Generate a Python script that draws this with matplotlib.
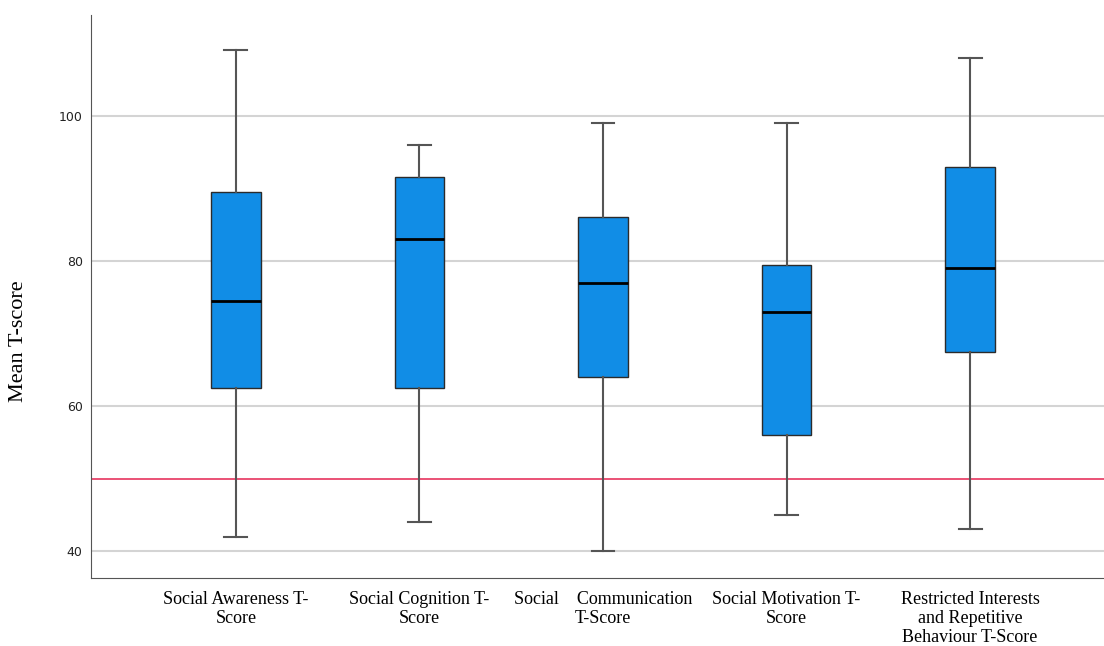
import matplotlib
matplotlib.use("Agg")
import matplotlib.pyplot as plt

# values
labels = ["Social Awareness T-\nScore",
          "Social Cognition T-\nScore",
          "Social    Communication\nT-Score",
          "Social Motivation T-\nScore",
          "Restricted Interests\nand Repetitive\nBehaviour T-Score"]
whislo = [42, 44, 40, 45, 43]
q1 = [62.5, 62.5, 64, 56, 67.5]
med = [74.5, 83, 77, 73, 79]
q3 = [89.5, 91.5, 86, 79.5, 93]
whishi = [109, 96, 99, 99, 108]
ref_line = 50

stats = []
for i in range(len(labels)):
    stats.append({"label": labels[i], "whislo": whislo[i], "q1": q1[i],
                  "med": med[i], "q3": q3[i], "whishi": whishi[i]})

fig = plt.figure(figsize=(11.04, 6.46), dpi=100)
ax = fig.add_axes([0.0824, 0.105, 0.9176, 0.872])

ax.bxp(stats, positions=range(1, 6), widths=0.27, showfliers=False,
       patch_artist=True, capwidths=0.125,
       boxprops=dict(facecolor="#118de6", edgecolor="#2b2b2b", linewidth=1),
       medianprops=dict(color="black", linewidth=2),
       whiskerprops=dict(color="#555555", linewidth=1.5),
       capprops=dict(color="#555555", linewidth=1.5))

ax.axhline(ref_line, color="#e8436a", linewidth=1.3, zorder=1)

ax.set_ylim(36.28, 113.9)
ax.set_xlim(0.21, 5.73)
ax.set_yticks([40, 60, 80, 100])
ax.yaxis.grid(True, color="#d4d4d4", linewidth=1.5)
ax.set_axisbelow(True)
ax.tick_params(axis="both", length=0)
ax.tick_params(axis="y", labelsize=9, colors="#222222", pad=6)
for lab in ax.get_xticklabels():
    lab.set_family("Liberation Serif")
    lab.set_fontsize(13)
    lab.set_linespacing(1.15)
ax.tick_params(axis="x", pad=9)

ax.set_ylabel("Mean T-score", family="Liberation Serif", fontsize=16)
ax.yaxis.set_label_coords(-0.062, 0.421)

ax.spines["top"].set_visible(False)
ax.spines["right"].set_visible(False)
ax.spines["left"].set_color("#555555")
ax.spines["bottom"].set_color("#555555")

plt.savefig("out.png", dpi=100)
